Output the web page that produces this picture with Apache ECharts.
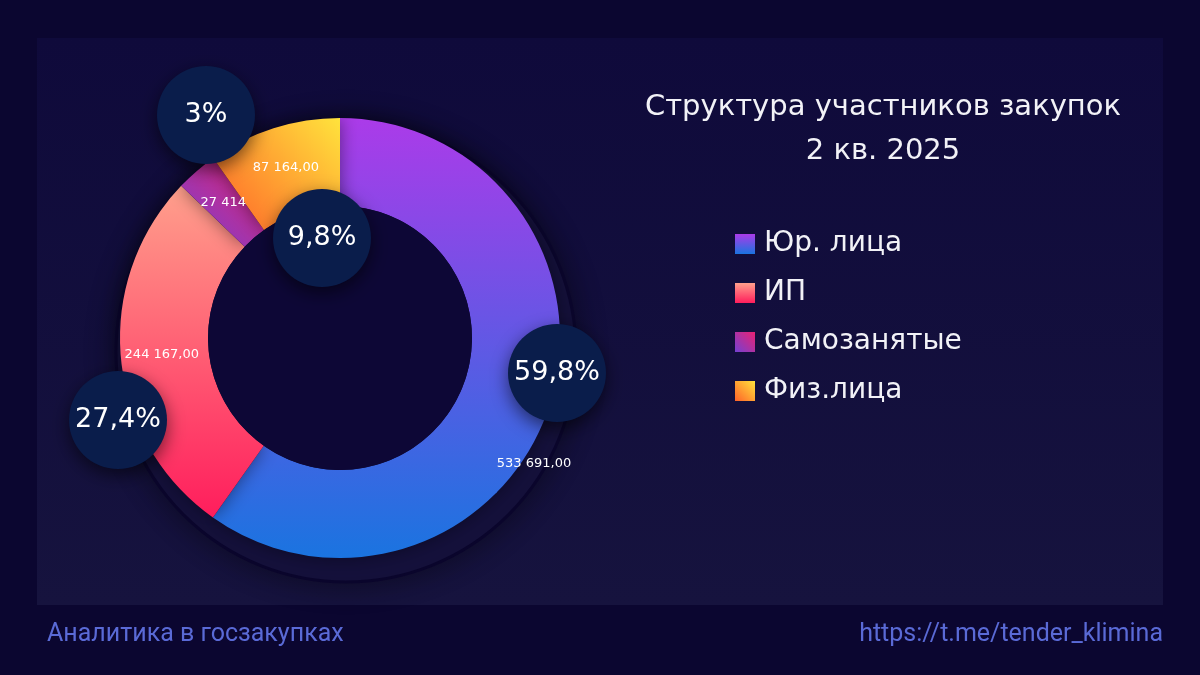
<!DOCTYPE html>
<html>
<head>
<meta charset="utf-8">
<script src="https://cdn.jsdelivr.net/npm/echarts@6/dist/echarts.min.js"></script>
<style>
  html, body { margin: 0; padding: 0; background: #0b0630; }
  #chart { width: 1200px; height: 675px; }
</style>
</head>
<body>
<div id="chart"></div>
<script>
var myChart = echarts.init(document.getElementById('chart'));

// данные
var names = ['Юр. лица', 'ИП', 'Самозанятые', 'Физ.лица'];
var values = [533691, 244167, 27414, 87164];
var valueLabels = ['533 691,00', '244 167,00', '27 414', '87 164,00'];
var percentLabels = ['59,8%', '27,4%', '3%', '9,8%'];

var FONT = '"DejaVu Sans", "Noto Sans", sans-serif';

// цвета секторов (градиенты)
var colors = [
    new echarts.graphic.LinearGradient(0, 0, 0, 1, [
        { offset: 0, color: '#ab3be9' }, { offset: 1, color: '#1a74e0' }]),
    new echarts.graphic.LinearGradient(0, 0, 0, 1, [
        { offset: 0, color: '#ffa08c' }, { offset: 1, color: '#ff1d5c' }]),
    new echarts.graphic.LinearGradient(0, 1, 1, 0, [
        { offset: 0, color: '#7440d2' }, { offset: 1, color: '#ea2272' }]),
    new echarts.graphic.LinearGradient(0, 1, 1, 0, [
        { offset: 0, color: '#ff6228' }, { offset: 1, color: '#ffe33c' }])
];

// где стоят кружки с процентами
var bubblePos = [[557, 373], [118, 420], [206, 115], [322, 238]];

var pieData = names.map(function (n, i) {
    return { name: n, value: values[i], itemStyle: { color: colors[i] } };
});

var center = [340, 338];

option = {
    backgroundColor: '#0b0630',
    animation: false,
    title: {
        text: 'Структура участников закупок\n2 кв. 2025',
        left: 878,
        top: 80,
        textAlign: 'center',
        textStyle: {
            color: '#f2f2f7',
            fontFamily: FONT,
            fontSize: 29,
            fontWeight: 'normal',
            lineHeight: 44
        }
    },
    legend: {
        orient: 'vertical',
        left: 730,
        top: 225,
        itemWidth: 20,
        itemHeight: 20,
        itemGap: 21,
        icon: 'rect',
        selectedMode: false,
        data: names,
        textStyle: {
            color: '#f2f2f7',
            fontFamily: FONT,
            fontSize: 28,
            padding: [0, 0, 0, 4]
        }
    },
    graphic: [
        {
            type: 'rect',
            z: -10,
            shape: { x: 37, y: 38, width: 1126, height: 567 },
            style: {
                fill: new echarts.graphic.LinearGradient(0, 0, 0, 1, [
                    { offset: 0, color: '#0f0a3b' }, { offset: 1, color: '#16133e' }])
            }
        },
        {
            type: 'text',
            left: 47,
            top: 622,
            style: {
                text: 'Аналитика в госзакупках',
                fill: '#5a6ad6',
                font: '25px "Roboto", sans-serif'
            }
        },
        {
            type: 'text',
            right: 37,
            top: 622,
            style: {
                text: 'https://t.me/tender_klimina',
                fill: '#5a6ad6',
                font: '25px "Roboto", sans-serif'
            }
        }
    ],
    series: [
        {
            // тень-подложка под кольцом
            type: 'pie',
            silent: true,
            center: [346, 352],
            radius: [0, 230],
            label: { show: false },
            labelLine: { show: false },
            itemStyle: {
                color: '#15113d',
                borderColor: '#0a052c',
                borderWidth: 3,
                shadowBlur: 30,
                shadowColor: 'rgba(0,0,0,0.45)'
            },
            data: [{ name: '', value: 1 }],
            z: 1
        },
        {
            type: 'pie',
            center: center,
            radius: [0, 132],
            silent: true,
            label: { show: false },
            itemStyle: { color: '#0d0736' },
            data: [{ name: '', value: 1 }],
            z: 3
        },
        {
            type: 'pie',
            center: center,
            radius: [132, 220],
            startAngle: 90,
            clockwise: true,
            emphasis: { disabled: true },
            itemStyle: {
                shadowBlur: 18,
                shadowColor: 'rgba(0,0,0,0.45)'
            },
            label: {
                show: true,
                position: 'inside',
                color: '#ffffff',
                fontFamily: FONT,
                fontSize: 13,
                formatter: function (p) { return valueLabels[p.dataIndex]; }
            },
            labelLayout: function (p) {
                if (p.dataIndex === 0) {
                    return { x: 534, y: 464, align: 'center', verticalAlign: 'middle' };
                }
            },
            data: pieData,
            z: 2
        },
        {
            // кружки с процентами
            type: 'pie',
            center: center,
            radius: [132, 220],
            startAngle: 90,
            silent: true,
            itemStyle: { color: 'rgba(0,0,0,0)' },
            label: {
                show: true,
                position: 'inside',
                formatter: function (p) { return percentLabels[p.dataIndex]; },
                color: '#ffffff',
                fontFamily: FONT,
                fontSize: 27,
                backgroundColor: '#0a1d4b',
                width: 98,
                height: 98,
                lineHeight: 98,
                borderRadius: 49,
                align: 'center',
                verticalAlign: 'middle',
                shadowBlur: 18,
                shadowOffsetY: 6,
                shadowColor: 'rgba(0,0,0,0.55)'
            },
            labelLayout: function (p) {
                var pos = bubblePos[p.dataIndex];
                return { x: pos[0], y: pos[1], align: 'center', verticalAlign: 'middle' };
            },
            data: names.map(function (n, i) { return { name: n, value: values[i] }; }),
            z: 5
        }
    ]
};

myChart.setOption(option);
</script>
</body>
</html>
